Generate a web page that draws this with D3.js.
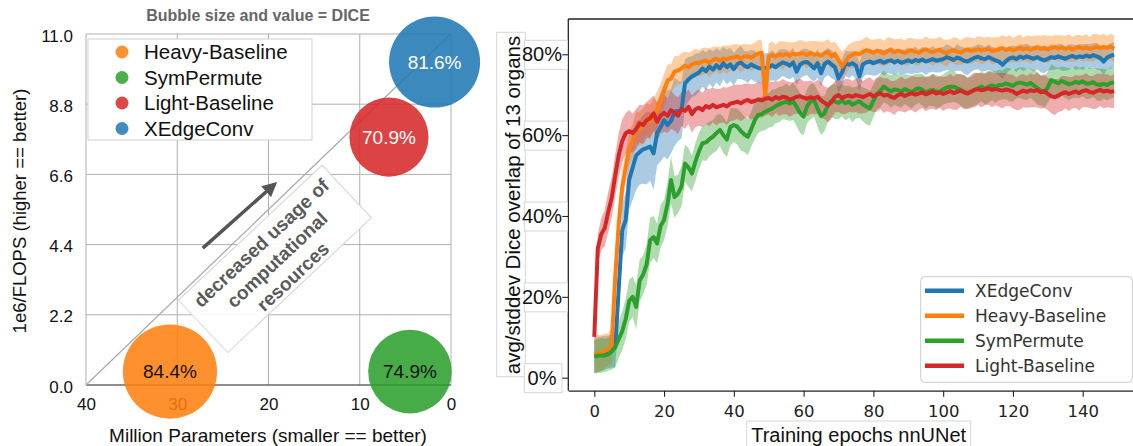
<!DOCTYPE html>
<html><head><meta charset="utf-8">
<script src="https://cdn.jsdelivr.net/npm/d3@7"></script>
<style>body{margin:0;background:#fff}svg{display:block}</style>
</head><body><svg id="c" width="1133" height="446"></svg>
<script>
// ---------- Left panel data ----------
const models = ["Heavy-Baseline","SymPermute","Light-Baseline","XEdgeConv"];
const modelColors = ["#ff7f0e","#2ca02c","#d62728","#1f77b4"];
const millionParams = [30.8, 4.5, 6.8, 1.8];
const invFlops = [0.42, 0.42, 7.77, 10.12];
const diceScore = [84.4, 74.9, 70.9, 81.6];
const bubbleTextColors = ["#111","#111","#fff","#fff"];
const xTicksLeft = [40,30,20,10,0];
const yTicksLeft = [0,2.2,4.4,6.6,8.8,11.0];
const annoLines = ["decreased usage of","computational","resources"];

// ---------- Right panel data ----------
const seriesNames = ["XEdgeConv","Heavy-Baseline","SymPermute","Light-Baseline"];
const seriesColors = ["#1f77b4","#ff7f0e","#2ca02c","#d62728"];
const xTicksRight = [0,20,40,60,80,100,120,140];
const yTicksRight = [0,20,40,60,80];
const xedgeMean = [
5.5,5.7,5.9,6.2,6.4,6.7,7.5,22,36.5,39,
49,52,55,55.8,56.5,56.8,57.2,55.5,60.5,62,
63.7,62.5,63.5,65.8,66,66.2,72.8,73.8,74.5,75,
75.5,76.5,75.8,77,76.2,77.3,76.5,77.8,76.8,77.5,
76.3,77.6,78,77.2,76.8,77.5,77,76.6,76.5,76.6,
76.8,77.3,76.8,77.5,78,77.7,77.2,78,75.7,77.5,
78,78.1,77.4,76.5,77.8,75.3,77.6,78.2,77.5,76.8,
74,75.5,77.8,77.4,77.8,77.2,74.5,77.5,78,78.2,
77.8,78.1,78.4,77.9,78.3,78.5,78,78.4,77.9,78.2,
78.5,78.1,78.6,78.3,78.7,78.2,78.5,78.8,78.4,78.6,
78.8,79.3,79,78.6,79.2,78.9,78.4,78.2,78.7,79.1,
79.4,79,78.8,79.3,78.9,78.5,78.2,77.4,78.3,79,
79.2,78.8,79.4,79.1,79.5,79.2,78.9,79.3,78.8,78.5,
78.9,79.3,79.1,79.5,79.2,78.9,79.3,79.6,79.2,79.5,
79.3,79.7,79.4,79.8,79.5,79.1,78.2,79.2,79.6,79.9];
const xedgeStd = [
4.5,4.4,4.3,4.2,4.0,4.2,5.0,6.0,6.5,7.0,
7.5,8.0,8.5,8.0,8.5,9.0,8.5,9.0,8.0,8.5,
9.0,8.5,8.0,8.5,7.5,7.0,6.0,5.5,5.0,5.2,
4.8,4.5,4.7,4.3,4.5,4.2,4.4,4.0,4.3,4.1,
4.0,3.8,4.1,3.7,3.9,3.6,3.8,3.5,3.7,3.6,
3.5,3.7,3.4,3.6,3.3,3.5,3.4,3.6,3.3,3.5,
3.4,3.2,3.5,3.3,3.6,3.2,3.4,3.3,3.5,3.2,
3.6,3.4,3.1,3.3,3.0,3.4,3.5,3.2,3.0,3.3,
3.1,3.3,2.9,3.2,3.0,3.3,3.1,2.9,3.2,3.0,
3.2,3.0,3.3,2.9,3.1,3.3,3.0,3.2,2.9,3.1,
3.0,3.2,3.1,2.9,3.3,3.0,3.2,3.4,3.1,2.9,
3.1,3.3,3.0,3.2,2.9,3.1,3.3,3.5,3.2,3.0,
2.9,3.2,3.0,3.3,3.1,2.9,3.2,3.0,3.3,3.1,
3.0,3.2,2.9,3.1,3.3,3.0,3.2,2.9,3.1,3.0,
3.2,2.9,3.1,3.0,3.3,3.1,3.4,3.0,3.2,3.1];
const heavyMean = [
5.8,6,6.2,6.6,7,8,25,38,47,52,
56.5,58.5,62,61.5,62.5,64,63.2,65,66.2,68.5,
71,73.5,74,75.7,76,76.5,77.2,76.8,77.5,77.9,
77.8,78.2,78.5,77.9,78.6,78.9,78.4,79,78.7,79.1,
79.2,79.5,78.9,79.4,79.5,79.1,79.8,80.2,80.4,69.5,
79.5,79.8,79.4,80,79.7,80.1,79.6,80.2,79.9,80.2,
80.2,79.8,80.4,79.9,80.1,79.6,80.3,80.6,79.5,80.1,
78.6,77,78.2,79.4,79.8,80.3,80,80.6,81,80.7,
80.4,80.9,80.6,80.2,80.8,81.1,80.5,80.9,80.6,80.3,
80.7,81,80.6,80.4,80.9,81.2,80.8,80.5,80.9,81.1,
80.6,80.3,80.8,81,80.7,80.4,80.9,81.2,80.8,81,
81.3,80.9,81.1,81.4,80.8,81,81.3,81.5,81.1,81.4,
81,81.3,81.6,81.2,81.5,81.1,81.4,81.7,81.3,81.6,
81.2,81.5,81.8,81.4,81.7,81.3,81.6,81.2,81.5,81.8,
81.4,81.7,81.3,81.6,81.9,81.5,81.8,81.6,81.9,81.4];
const heavyStd = [
4.5,4.6,4.4,4.2,4.0,4.5,5.0,5.0,4.5,4.2,
4.0,4.2,3.8,4.3,4.0,3.9,4.4,4.1,4.6,4.3,
4.2,4.0,3.6,3.9,3.5,3.8,3.4,3.6,3.3,3.5,
3.2,3.4,3.1,3.6,3.3,3.0,3.4,3.2,3.5,3.1,
3.3,3.0,3.4,3.2,2.9,3.3,3.1,3.4,3.0,3.2,
3.1,3.4,2.9,3.2,3.5,3.0,3.3,2.8,3.2,3.4,
3.0,3.3,2.9,3.4,3.1,3.5,2.9,3.2,3.3,3.0,
3.2,3.6,3.3,3.0,3.2,2.9,3.3,3.1,3.4,3.0,
3.2,2.9,3.3,3.1,3.4,3.0,3.2,2.9,3.3,3.1,
3.4,3.0,3.2,3.3,2.9,3.2,3.1,3.4,3.0,3.3,
3.1,3.3,2.9,3.2,3.4,3.0,3.2,3.1,3.3,2.9,
3.2,3.4,3.1,3.0,3.3,3.2,2.9,3.3,3.1,3.4,
3.0,3.2,3.3,2.9,3.2,3.4,3.1,3.0,3.3,3.2,
3.4,3.1,2.9,3.3,3.0,3.2,3.4,3.1,3.3,3.0,
3.2,3.3,3.0,3.4,3.1,3.2,3.3,3.0,3.2,3.3];
const symMean = [
5.2,5.4,5.5,5.5,5.8,6.5,7.6,9.5,11.5,14.5,
19,20,17.5,24,25.5,28,34,34.8,33.2,37.5,
39,43,48.9,44.7,45.5,47.3,53,52,50.5,53.5,
56,58,58.2,59,59.6,60.5,61.3,60,58.9,62,
62.5,62.1,61,60.2,59.6,61.5,63.7,65,65.2,65.8,
66.2,66.6,67.2,67.6,68,68.3,67.8,68.4,67,65.5,
64.6,67.2,68.3,68.7,66.5,64.8,65.4,67.5,68.5,68.3,
68,68.6,67.9,68.3,67.5,68,68.4,67.6,67.1,66.6,
68.5,70.2,71,72,71.4,70.8,71.3,71.2,70.7,71.4,
71,70.6,71.3,71.6,71.2,70.5,71,71.2,70.8,70.7,
71.3,71.8,72,72,71.6,71.2,70.8,70.4,70.7,71.2,
71.6,72,71.5,72,72.3,71.9,72.4,72.4,72.8,72.5,
72.2,72.8,73,72.8,72.5,72.9,72.3,71.6,71,70.7,
71.8,73.6,73.2,72.8,73.4,73,72.6,72.8,73.2,72.9,
73.3,72.8,72.8,73.1,72.6,72.4,72.7,72.4,72.9,73];
const symStd = [
4.0,4.2,4.3,4.1,4.0,4.5,5.0,4.5,4.8,5.0,
5.2,5.0,5.5,5.2,4.8,5.0,5.5,5.2,4.9,5.3,
5.0,5.5,5.8,5.2,4.7,5.0,4.6,4.8,4.4,4.7,
4.5,4.2,4.6,4.3,4.1,4.4,4.0,4.5,4.3,4.6,
4.2,4.5,4.8,4.4,4.6,4.3,4.7,4.4,4.2,4.5,
4.3,4.6,4.2,4.4,4.1,4.5,4.3,4.6,4.8,5.0,
4.6,4.2,4.4,4.1,4.5,4.8,4.4,4.2,4.0,4.3,
4.1,3.9,4.2,4.0,4.3,3.9,4.1,4.2,4.4,4.3,
4.0,3.8,4.1,3.9,3.7,4.0,3.8,4.1,3.9,3.7,
3.9,4.1,3.8,3.6,3.9,4.0,3.7,3.9,4.1,3.8,
3.7,3.9,4.0,3.8,3.6,3.9,4.1,3.8,3.7,4.0,
3.8,3.6,3.9,4.0,3.7,3.9,3.8,3.6,3.9,4.1,
3.9,3.7,3.8,4.0,3.9,3.6,3.8,4.0,3.7,3.9,
3.8,4.0,3.7,3.9,3.6,3.8,4.0,3.7,3.9,3.8,
3.7,3.9,3.8,3.6,3.9,4.0,3.7,3.8,3.9,3.7];
const lightMean = [
10.1,32,35.5,37,41,44.5,50,55,58.5,60.5,
61,60.5,61.5,62.9,62.5,63.7,64.2,65.4,63.3,64.8,
65.5,64.8,66.2,65.5,64.8,66.5,66,67,65.2,66.4,
66.8,66.2,67.2,66.8,67.5,66.9,67.2,67.5,67.1,67.8,
68,68.3,67.9,68.4,68.7,68.2,68.5,68.8,68.6,69,
69.2,68.8,69.4,69,69.5,69.3,68.8,69.1,69.5,69.6,
69.3,69,69.4,69.1,69.5,68.6,68,67.4,68.2,69.5,
69.9,69.2,69.6,69.8,69.5,69.9,69.7,69.4,69.8,70.2,
69.6,70,70.4,69.8,70,69.5,69.2,69.9,70.2,69.7,
70.1,70.4,70,70.3,70.6,70.1,70.4,70.8,70.3,70.6,
70.2,70.5,70.9,70.4,70.7,71,70.6,70.3,70.8,71.2,
71.4,71.1,71.3,71.6,71.2,71.4,71.2,71,71.3,71.1,
70.8,70.2,70.6,71,70.7,71.1,70.9,71.2,70.6,70.9,
70.2,69.6,69.4,69.8,70.3,70.6,70.2,70.5,70.8,70.4,
70.9,71.1,70.7,70.5,70.9,71.2,70.8,71,70.7,70.9];
const lightStd = [
2.0,3.5,4.0,4.5,5.0,5.0,5.2,5.5,5.3,5.0,
5.2,4.8,5.0,4.6,4.9,4.5,4.8,4.4,4.7,4.5,
4.6,4.3,4.7,4.4,4.6,4.2,4.5,4.3,4.6,4.4,
4.5,4.2,4.4,4.6,4.3,4.5,4.2,4.4,4.6,4.3,
4.4,4.2,4.5,4.3,4.1,4.4,4.2,4.5,4.3,4.2,
4.1,4.3,4.0,4.2,4.4,4.1,4.3,4.0,4.2,4.4,
4.0,4.3,4.1,3.9,4.2,4.4,4.0,4.3,4.1,3.9,
4.2,4.0,4.3,4.1,3.9,4.2,4.4,4.0,4.2,4.1,
3.9,4.2,4.0,4.3,4.1,3.9,4.2,4.0,4.3,4.1,
4.0,4.2,4.4,4.1,3.9,4.2,4.0,4.3,4.1,3.9,
4.2,4.0,4.3,4.1,4.4,4.0,4.2,3.9,4.1,4.3,
4.0,4.2,3.9,4.1,4.3,4.0,4.2,4.4,4.1,3.9,
4.2,4.0,4.3,4.1,3.9,4.2,4.0,4.3,4.1,4.2,
4.0,4.2,4.5,4.1,4.3,4.0,4.2,3.9,4.1,4.3,
4.0,4.2,3.9,4.1,4.3,4.0,4.2,4.1,3.9,4.2];
const seriesMeans = [xedgeMean, heavyMean, symMean, lightMean];
const seriesStds = [xedgeStd, heavyStd, symStd, lightStd];

const SANS = "'Liberation Sans', Arial, Helvetica, sans-serif";
const DEJAVU = "'DejaVu Sans', sans-serif";
const svg = d3.select("#c");
svg.append("rect").attr("width",1133).attr("height",446).attr("fill","#fff");

// ================= LEFT PANEL =================
const xL = d3.scaleLinear().domain([40,0]).range([86,451]);
const yL = d3.scaleLinear().domain([0,11]).range([385,34]);
const rL = d3.scaleLinear().domain([0,100]).range([0,55.8]);
const gL = svg.append("g");

gL.selectAll("line.vg").data(xTicksLeft).join("line").attr("class","vg")
  .attr("x1",d=>xL(d)).attr("x2",d=>xL(d)).attr("y1",yL(0)).attr("y2",yL(11))
  .attr("stroke","#b0b0b0").attr("stroke-width",1);
gL.selectAll("line.hg").data(yTicksLeft).join("line").attr("class","hg")
  .attr("x1",xL(40)).attr("x2",xL(0)).attr("y1",d=>yL(d)).attr("y2",d=>yL(d))
  .attr("stroke","#b0b0b0").attr("stroke-width",1);
gL.append("line").attr("x1",xL(40)).attr("x2",xL(0)).attr("y1",yL(0)).attr("y2",yL(0))
  .attr("stroke","#444").attr("stroke-width",1.2);

const axL = gL.append("g").attr("transform",`translate(0,${yL(0)})`)
  .call(d3.axisBottom(xL).tickValues(xTicksLeft).tickSize(0).tickPadding(13).tickFormat(d3.format("d")));
axL.select(".domain").remove();
axL.selectAll("text").attr("font-size",17).attr("font-family",SANS).attr("fill","#111");
const ayL = gL.append("g").attr("transform",`translate(${xL(40)},0)`)
  .call(d3.axisLeft(yL).tickValues(yTicksLeft).tickSize(0).tickPadding(13).tickFormat(d3.format(".1f")));
ayL.select(".domain").remove();
ayL.selectAll("text").attr("font-size",17).attr("font-family",SANS).attr("fill","#111").attr("dy","0.42em");

// diagonal
gL.append("line").attr("x1",xL(40)).attr("y1",yL(0)).attr("x2",xL(0)).attr("y2",yL(11))
  .attr("stroke","#a8a8a8").attr("stroke-width",1.2);

// annotation box
const annoCx = 19.3, annoCy = 3.95;
const anno = gL.append("g").attr("transform",`translate(${xL(annoCx)},${yL(annoCy)}) rotate(-43.2)`);
anno.append("rect").attr("x",-98.5).attr("y",-36).attr("width",197).attr("height",72)
  .attr("fill","#fff").attr("fill-opacity",0.9).attr("stroke","#d4d4d4").attr("stroke-width",1);
anno.selectAll("text").data(annoLines).join("text")
  .attr("x",1).attr("y",(d,i)=>(i-1)*23+2).attr("dy","0.35em")
  .attr("text-anchor","middle").attr("font-family",SANS).attr("font-weight","bold")
  .attr("font-size",19).attr("fill","#5a5a5a").text(d=>d);

// arrow
const defs = svg.append("defs");
defs.append("marker").attr("id","ah").attr("viewBox","0 0 10 10").attr("refX",8).attr("refY",5)
  .attr("markerWidth",4.2).attr("markerHeight",4.2).attr("orient","auto")
  .append("path").attr("d","M0,0 L10,5 L0,10 z").attr("fill","#555");
gL.append("line").attr("x1",xL(27.2)).attr("y1",yL(4.29)).attr("x2",xL(19.3)).attr("y2",yL(6.3))
  .attr("stroke","#555").attr("stroke-width",3.5).attr("marker-end","url(#ah)");

// bubbles
const bub = gL.selectAll("g.bub").data(models).join("g").attr("class","bub");
bub.append("circle").attr("cx",(d,i)=>xL(millionParams[i])).attr("cy",(d,i)=>yL(invFlops[i]))
  .attr("r",(d,i)=>rL(diceScore[i])).attr("fill",(d,i)=>modelColors[i]).attr("fill-opacity",0.87);
bub.append("text").attr("x",(d,i)=>xL(millionParams[i])).attr("y",(d,i)=>yL(invFlops[i]))
  .attr("dy","0.36em").attr("text-anchor","middle").attr("font-family",SANS).attr("font-size",19)
  .attr("fill",(d,i)=>bubbleTextColors[i]).text((d,i)=>diceScore[i].toFixed(1)+"%");

// legend left
const lgL = gL.append("g");
lgL.append("rect").attr("x",88).attr("y",39).attr("width",224).attr("height",101)
  .attr("fill","#fff").attr("stroke","#d0d0d0").attr("stroke-width",1);
const lgLi = lgL.selectAll("g").data(models).join("g")
  .attr("transform",(d,i)=>`translate(0,${52+i*25.5})`);
lgLi.append("circle").attr("cx",122).attr("cy",0).attr("r",6.5).attr("fill",(d,i)=>modelColors[i]).attr("fill-opacity",0.85);
lgLi.append("text").attr("x",144).attr("y",0).attr("dy","0.36em").attr("font-family",SANS)
  .attr("font-size",20.5).attr("fill","#111").text(d=>d);

// titles / labels
svg.append("text").attr("x",258).attr("y",21).attr("text-anchor","middle").attr("font-family",SANS)
  .attr("font-weight","bold").attr("font-size",16).attr("fill","#666").text("Bubble size and value = DICE");
svg.append("text").attr("transform","translate(26,211) rotate(-90)").attr("text-anchor","middle")
  .attr("font-family",SANS).attr("font-size",18.5).attr("fill","#111").text("1e6/FLOPS (higher == better)");
svg.append("text").attr("x",268).attr("y",442).attr("text-anchor","middle")
  .attr("font-family",SANS).attr("font-size",19).attr("fill","#111").text("Million Parameters (smaller == better)");

// ================= RIGHT PANEL =================
const xR = d3.scaleLinear().domain([-7.45,156.45]).range([568.3,1140.1]);
const yR = d3.scaleLinear().domain([-3.22,88.73]).range([390.7,19]);
const gR = svg.append("g");
defs.append("clipPath").attr("id","clipR").append("rect")
  .attr("x",568.3).attr("y",19).attr("width",572).attr("height",371.7);

const plot = gR.append("g").attr("clip-path","url(#clipR)");
const area = (m,s) => d3.area().x((d,i)=>xR(i)).y0((d,i)=>yR(m[i]-s[i])).y1((d,i)=>yR(m[i]+s[i]))(m);
const line = d3.line().x((d,i)=>xR(i)).y(d=>yR(d));
seriesNames.forEach((n,k)=>{
  plot.append("path").attr("d",area(seriesMeans[k],seriesStds[k]))
    .attr("fill",seriesColors[k]).attr("fill-opacity",0.38).attr("stroke","none");
});
seriesNames.forEach((n,k)=>{
  plot.append("path").attr("d",line(seriesMeans[k])).attr("fill","none")
    .attr("stroke",seriesColors[k]).attr("stroke-width",4).attr("stroke-linejoin","round");
});

// spines
gR.append("line").attr("x1",568.3).attr("x2",1140).attr("y1",19).attr("y2",19).attr("stroke","#222").attr("stroke-width",1.3);
gR.append("line").attr("x1",568.3).attr("x2",568.3).attr("y1",19).attr("y2",390.7).attr("stroke","#222").attr("stroke-width",1.3);

// x axis
const axR = gR.append("g").attr("transform",`translate(0,390.7)`)
  .call(d3.axisBottom(xR).tickValues(xTicksRight).tickSize(6).tickSizeOuter(0).tickPadding(8.3));
axR.select(".domain").attr("stroke","#222").attr("stroke-width",1.3);
axR.selectAll(".tick line").attr("stroke","#222").attr("stroke-width",1.1);
axR.selectAll("text").attr("font-size",16.5).attr("font-family",DEJAVU).attr("fill","#222");

// y label box
gR.append("rect").attr("x",496.7).attr("y",32.3).attr("width",28.6).attr("height",344.4)
  .attr("fill","#fff").attr("stroke","#d6d6d6").attr("stroke-width",1);
gR.append("text").attr("transform","translate(519.5,205) rotate(-90)").attr("text-anchor","middle")
  .attr("font-family",SANS).attr("font-size",20.5).attr("fill","#111").text("avg/stddev Dice overlap of 13 organs");

// y axis
const ayR = gR.append("g").attr("transform",`translate(568.3,0)`)
  .call(d3.axisLeft(yR).tickValues(yTicksRight).tickSize(6).tickFormat(d=>d+"%"));
ayR.select(".domain").remove();
ayR.selectAll(".tick line").attr("stroke","#222").attr("stroke-width",1.1);
ayR.selectAll(".tick text").attr("x",-26.3).attr("text-anchor","middle")
  .attr("font-size",20).attr("font-family",SANS).attr("fill","#111");
ayR.selectAll(".tick").each(function(){
  const t = d3.select(this).select("text");
  const w = t.node().getComputedTextLength();
  d3.select(this).insert("rect","line").attr("x",-44).attr("y",-14.5)
    .attr("width",-26.3 + w/2 + 5.5 + 44).attr("height",29)
    .attr("fill","#fff").attr("stroke","#d6d6d6").attr("stroke-width",1);
});

// x label box
gR.append("rect").attr("x",746.7).attr("y",421).attr("width",224).attr("height",40)
  .attr("fill","#fff").attr("stroke","#d6d6d6").attr("stroke-width",1);
gR.append("text").attr("x",858.7).attr("y",441.7).attr("text-anchor","middle")
  .attr("font-family",SANS).attr("font-size",20).attr("fill","#111").text("Training epochs nnUNet");

// legend right
const lgR = gR.append("g");
lgR.append("rect").attr("x",920.7).attr("y",276.7).attr("width",211.6).attr("height",105.6).attr("rx",4)
  .attr("fill","#fff").attr("fill-opacity",0.85).attr("stroke","#cccccc").attr("stroke-width",1);
const lgRi = lgR.selectAll("g").data(seriesNames).join("g")
  .attr("transform",(d,i)=>`translate(0,${290.7+i*25})`);
lgRi.append("line").attr("x1",925).attr("x2",964).attr("y1",0).attr("y2",0)
  .attr("stroke",(d,i)=>seriesColors[i]).attr("stroke-width",4.5);
lgRi.append("text").attr("x",975).attr("y",0).attr("dy","0.36em").attr("font-family",DEJAVU)
  .attr("font-size",17).attr("fill","#333").text(d=>d);
</script></body></html>
